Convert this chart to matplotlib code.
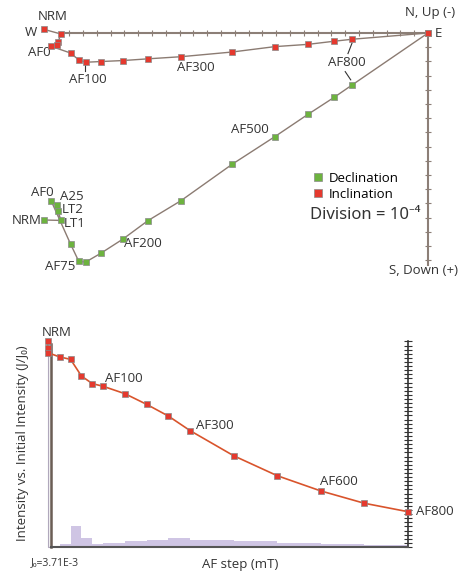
import numpy as np
import matplotlib
matplotlib.use("Agg")
import matplotlib.pyplot as plt
from matplotlib.patches import Rectangle

plt.rcParams['font.family'] = ['Open Sans', 'Noto Sans', 'DejaVu Sans']

# Zijderveld components, in divisions of 1e-4 (east +, down +)
east = [-27.8, -26.6, -26.8, -26.9, -27.3, -25.9, -25.3, -24.8, -23.7, -22.1,
        -20.3, -17.9, -14.2, -11.1, -8.7, -6.8, -5.5, 0.0]
north = [13.17, 13.20, 12.54, 12.09, 11.83, 14.86, 16.09, 16.13, 15.51, 14.51,
         13.22, 11.81, 9.25, 7.30, 5.73, 4.53, 3.66, 0.0]
down = [-0.25, 0.07, 0.63, 0.85, 0.94, 1.41, 1.90, 2.06, 2.01, 1.94,
        1.82, 1.67, 1.34, 0.96, 0.80, 0.58, 0.44, 0.0]

# Normalised intensity per AF step
af_field = [-28, -28, -28, 0, 25, 50, 75, 100, 150, 200, 250, 300, 400, 500, 600, 700, 800]
intensity = [1.0, 0.970, 0.946, 0.925, 0.913, 0.832, 0.795, 0.782, 0.746, 0.694,
             0.637, 0.566, 0.444, 0.347, 0.273, 0.213, 0.172]
decay_edges = [0, 25, 50, 75, 100, 150, 200, 250, 300, 400, 500, 600, 700, 800]
decay = [0.013, 0.102, 0.045, 0.015, 0.021, 0.029, 0.034, 0.044, 0.034, 0.029,
         0.021, 0.016, 0.011]

axis_col = '#8c7f77'
line_col = '#8b7b72'
red = '#e5392e'
green = '#6db33f'
edge = '#8a8a8a'
fs = 9.5

fig = plt.figure(figsize=(4.74, 5.73), dpi=100)

# ---- Zijderveld plot ----
ax = fig.add_axes([0, 1 - 290 / 573, 1, 290 / 573])
ax.set_xlim(-31.01, 3.33)
ax.set_ylim(18.10, -2.324)
for s in ['top', 'left']:
    ax.spines[s].set_visible(False)
ax.spines['bottom'].set_position(('data', 0))
ax.spines['bottom'].set_bounds(-26.6, 0)
ax.spines['right'].set_position(('data', 0))
ax.spines['right'].set_bounds(0, 16.34)
for s in ['bottom', 'right']:
    ax.spines[s].set_color(axis_col)
    ax.spines[s].set_linewidth(1.5)
ax.yaxis.tick_right()
ax.set_xticks(np.arange(-26, 0))
ax.set_yticks(np.arange(1, 17))
ax.tick_params(direction='inout', length=5, width=0.8, color=axis_col,
               labelbottom=False, labelright=False)

ax.plot(east, north, '-', color=line_col, lw=1, zorder=3)
ax.plot(east, north, 's', ms=4.8, mfc=green, mec=edge, mew=0.5, zorder=4,
        label='Declination')
ax.plot(east, down, '-', color=line_col, lw=1, zorder=3)
ax.plot(east, down, 's', ms=4.8, mfc=red, mec=edge, mew=0.5, zorder=5,
        label='Inclination')

txt = dict(fontsize=fs, ha='center', va='center', color='#333333')
ax.text(-27.17, -1.13, 'NRM', **txt)
ax.text(-28.77, 0.0, 'W', **txt)
ax.text(-28.19, 1.34, 'AF0', **txt)
ax.text(-24.64, 3.31, 'AF100', **txt)
ax.plot([-24.86, -24.86], [2.22, 2.7], color='#333333', lw=0.8)
ax.text(-16.81, 2.46, 'AF300', **txt)
ax.text(-5.87, 2.11, 'AF800', **txt)
ax.plot([-5.51, -5.80], [0.72, 1.45], color='#333333', lw=0.8)
ax.plot([-6.0, -5.6], [2.72, 3.3], color='#333333', lw=0.8)
ax.text(0.14, -1.41, 'N, Up (-)', **txt)
ax.text(0.72, 0.07, 'E', **txt)
ax.text(-12.9, 6.83, 'AF500', **txt)
ax.text(-20.65, 14.86, 'AF200', **txt)
ax.text(-26.67, 16.41, 'AF75', **txt)
ax.text(-27.97, 11.22, 'AF0', **txt)
ax.text(-25.8, 11.55, 'A25', **txt)
ax.text(-25.72, 12.45, 'LT2', **txt)
ax.text(-25.58, 13.4, 'LT1', **txt)
ax.text(-29.06, 13.24, 'NRM', **txt)
ax.text(-0.36, 16.76, 'S, Down (+)', **txt)

ax.legend(loc='upper left', bbox_to_anchor=(313 / 474, 1 - 172 / 573),
          bbox_transform=fig.transFigure, frameon=False, fontsize=fs,
          handlelength=0.8, handletextpad=0.4, labelspacing=0.2,
          borderpad=0, borderaxespad=0, markerscale=1.3)
ax.text(-4.57, 12.85, 'Division = 10\u207b\u2074', fontsize=12, ha='center',
        va='center', color='#333333',
        family=['Noto Sans', 'DejaVu Sans'])

# ---- Intensity decay plot ----
bx = fig.add_axes([0, 0, 1, 283 / 573])
bx.set_xlim(-137.2, 952.4)
bx.set_ylim(-0.1265, 1.2506)
bx.spines['top'].set_visible(False)
bx.spines['left'].set_position(('data', -19))
bx.spines['left'].set_bounds(0, 0.99)
bx.spines['left'].set_color('#6b5e55')
bx.spines['left'].set_linewidth(1.8)
bx.spines['bottom'].set_position(('data', 0))
bx.spines['bottom'].set_bounds(-19, 800)
bx.spines['bottom'].set_color('#555555')
bx.spines['bottom'].set_linewidth(1.5)
bx.spines['right'].set_position(('data', 800))
bx.spines['right'].set_bounds(0, 1.0)
bx.spines['right'].set_color('#333333')
bx.spines['right'].set_linewidth(1.2)
bx.yaxis.tick_right()
bx.set_xticks([])
bx.set_yticks(np.arange(0, 1.001, 0.02))
bx.tick_params(direction='inout', length=6, width=0.8, color='#333333',
               labelright=False)
bx.add_patch(Rectangle((-28, 0), 9, 0.99, facecolor='#f3f3f3',
                       edgecolor='#b0a8bc', lw=0.8, zorder=1))

bx.stairs(decay, decay_edges, fill=True, color='#cfc5e4', zorder=2)
bx.plot(af_field, intensity, '-', color='#d9542c', lw=1.2, zorder=3)
bx.plot(af_field, intensity, 's', ms=4.8, mfc=red, mec=edge, mew=0.5, zorder=4)

bx.text(-6.2, 1.046, 'NRM', **txt)
bx.text(147.8, 0.822, 'AF100', **txt)
bx.text(357, 0.589, 'AF300', **txt)
bx.text(642, 0.321, 'AF600', **txt)
bx.text(819, 0.175, 'AF800', fontsize=fs, ha='left', va='center', color='#333333')
bx.text(-10.8, -0.078, 'J\u2080=3.71E-3', fontsize=7.5, ha='center', va='center',
        color='#333333')
bx.text(415, -0.083, 'AF step (mT)', **txt)
bx.text(-84.4, 0.506, 'Intensity vs. Initial Intensity (J/J\u2080)', rotation=90,
        **txt)

fig.savefig('out.png', dpi=100)
